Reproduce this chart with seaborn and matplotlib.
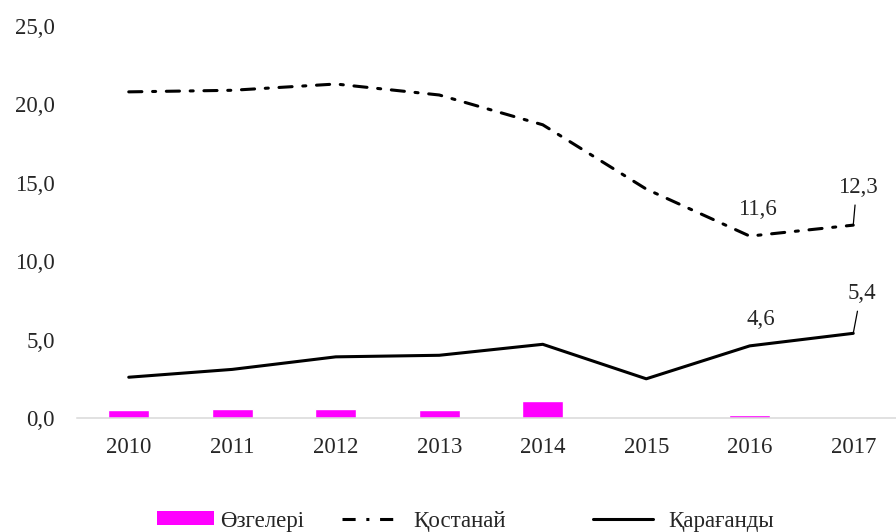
import numpy as np
import pandas as pd
import matplotlib
matplotlib.use("Agg")
import matplotlib.pyplot as plt
import seaborn as sns
from matplotlib.patches import Patch
from matplotlib.lines import Line2D

years = ["2010", "2011", "2012", "2013", "2014", "2015", "2016", "2017"]
ozgeleri = [0.5, 0.6, 0.6, 0.5, 1.1, 0.0, 0.2, 0.0]
kostanai = [20.8, 20.9, 21.3, 20.6, 18.7, 14.6, 11.6, 12.3]
karagandy = [2.6, 3.1, 3.9, 4.0, 4.7, 2.5, 4.6, 5.4]
yticks = [0, 5, 10, 15, 20, 25]
series_names = ["Өзгелері", "Қостанай", "Қарағанды"]

sns.set_theme(style="white")
plt.rcParams["font.family"] = ["Liberation Serif", "DejaVu Serif"]
FS = 16.5

W, H = 896, 532
fig = plt.figure(figsize=(W / 100, H / 100), dpi=100)
ax = fig.add_axes([77 / W, 1 - 418 / H, 828 / W, 392 / H])

df = pd.DataFrame({"year": years, "ozg": ozgeleri, "kos": kostanai, "kar": karagandy})
df["pos"] = np.arange(len(years))

sns.barplot(data=df, x="year", y="ozg", color="#ff00ff", width=0.4, saturation=1,
            ax=ax, zorder=2)
sns.lineplot(data=df, x="pos", y="kos", color="black", lw=2.2, ax=ax,
             dashes=False, zorder=3)
ax.lines[-1].set_dashes((4.3, 3.5, 1, 3.5))
ax.lines[-1].set_dash_capstyle("round")
sns.lineplot(data=df, x="pos", y="kar", color="black", lw=2.2, ax=ax, zorder=3)

fmt = lambda v: f"{v:.1f}".replace(".", ",")

# value labels
ax.annotate(fmt(kostanai[6]), xy=(6, kostanai[6]), xytext=(5.8, 19.4),
            textcoords="offset points", ha="center", va="center", fontsize=FS)
ax.annotate(fmt(karagandy[6]), xy=(6, karagandy[6]), xytext=(7.9, 18.7),
            textcoords="offset points", ha="center", va="center", fontsize=FS)
ax.annotate(fmt(kostanai[7]), xy=(7, kostanai[7]), xytext=(3.2, 27.4),
            textcoords="offset points", ha="center", va="center", fontsize=FS,
            arrowprops=dict(arrowstyle="-", lw=0.9, color="black",
                            relpos=(0.45, 0), shrinkA=3, shrinkB=0))
ax.annotate(fmt(karagandy[7]), xy=(7, karagandy[7]), xytext=(6.1, 28.8),
            textcoords="offset points", ha="center", va="center", fontsize=FS,
            arrowprops=dict(arrowstyle="-", lw=0.9, color="black",
                            relpos=(0.4, 0), shrinkA=3, shrinkB=0))

ax.set_xlim(-0.5, 7.5)
ax.set_ylim(0, 25)
ax.set_yticks(yticks)
ax.set_yticklabels([fmt(v) for v in yticks], fontsize=FS)
ax.set_xticks(range(len(years)))
ax.set_xticklabels(years, fontsize=FS)
ax.tick_params(axis="y", length=0, pad=16)
ax.tick_params(axis="x", length=0, pad=14)
ax.set_xlabel("")
ax.set_ylabel("")
for s in ["top", "right", "left"]:
    ax.spines[s].set_visible(False)
ax.spines["bottom"].set_color("#d9d9d9")
ax.spines["bottom"].set_linewidth(1.1)
ax.grid(False)

# legend (three entries placed individually)
ly = 1 - 521 / H
h1 = Patch(facecolor="#ff00ff", edgecolor="none")
h2 = Line2D([0], [0], color="black", lw=2.2, dashes=(4.3, 3.5, 1, 3.5))
h3 = Line2D([0], [0], color="black", lw=2.2)
for h, name, x0, hl, tp in [(h1, series_names[0], 157, 2.5, 0.27),
                            (h2, series_names[1], 342, 2.3, 0.8),
                            (h3, series_names[2], 593, 2.6, 0.7)]:
    fig.legend(handles=[h], labels=[name], loc="center left",
               bbox_to_anchor=(x0 / W, ly), frameon=False, fontsize=FS,
               borderpad=0, borderaxespad=0, handlelength=hl,
               handletextpad=tp, handleheight=0.55)

fig.savefig("out.png", dpi=100)
